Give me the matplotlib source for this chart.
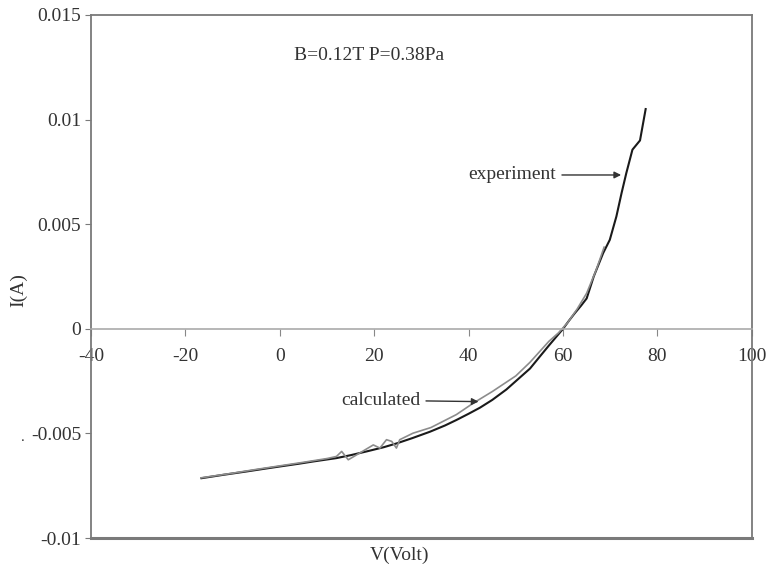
import matplotlib
matplotlib.use("Agg")
import matplotlib.pyplot as plt

plt.rcParams['font.family'] = ['Liberation Serif', 'DejaVu Serif']

# experiment (black curve)
v_exp = [-16.6, -12, -7.1, -3, 0, 4, 7.1, 12, 15, 18.4, 22, 24.7, 28, 31.8, 35,
         37.4, 40, 42.4, 45, 48, 51, 53, 55.1, 57, 58.5, 60, 61.3, 62.5, 63.8, 65,
         66.5, 68.5, 69.9, 71.3, 72.4, 73.4, 74.7, 76.3, 77.5]
i_exp = [-0.00714, -0.00698, -0.00682, -0.00668, -0.00658, -0.00645, -0.00634,
         -0.00618, -0.00604, -0.00586, -0.00566, -0.00548, -0.00523, -0.00492,
         -0.00462, -0.00436, -0.00406, -0.00377, -0.0034, -0.0029, -0.0023,
         -0.0019, -0.00132, -0.0008, -0.0004, 0.0, 0.0004, 0.00075, 0.0011,
         0.00145, 0.0025, 0.00362, 0.00425, 0.00537, 0.00649, 0.00744, 0.00856,
         0.0090, 0.0105]

# calculated (gray curve)
v_calc = [-16.6, -10, -5, 0, 5, 10, 12, 13.1, 14.5, 16.9, 19.8, 21.2, 22.6, 23.7,
          24.7, 25.4, 28.2, 32, 37.4, 41, 45, 50, 53, 55, 57, 59, 61, 63, 65, 67,
          68.7]
i_calc = [-0.00712, -0.0069, -0.00672, -0.00655, -0.00638, -0.0062, -0.0061,
          -0.00586, -0.00626, -0.00594, -0.00555, -0.0057, -0.0053, -0.00538,
          -0.0057, -0.0053, -0.00499, -0.00472, -0.0041, -0.00355, -0.0030,
          -0.00225, -0.0016, -0.0011, -0.0006, -0.0002, 0.0003, 0.00095, 0.0017,
          0.0028, 0.0039]

x_ticks = [-40, -20, 0, 20, 40, 60, 80, 100]
y_ticks = [-0.01, -0.005, 0, 0.005, 0.01, 0.015]
y_labels = ['-0.01', '-0.005', '0', '0.005', '0.01', '0.015']

txt = '#333333'
frame = '#7a7a7a'

fig = plt.figure(figsize=(7.68, 5.73), dpi=100)
ax = fig.add_axes([0.1185, 0.061, 0.8605, 0.913])

ax.plot(v_exp, i_exp, color='#1a1a1a', linewidth=1.5)
ax.plot(v_calc, i_calc, color='#8c8c8c', linewidth=1.2)

ax.set_xlim(-40, 100)
ax.set_ylim(-0.01, 0.015)

# x axis sits on I = 0
ax.spines['bottom'].set_position(('data', 0))
ax.spines['bottom'].set_color('#aaaaaa')
ax.spines['bottom'].set_linewidth(1.2)
for s in ['left', 'right', 'top']:
    ax.spines[s].set_color(frame)
    ax.spines[s].set_linewidth(1.3)
ax.axhline(-0.01, color=frame, linewidth=2.2, clip_on=False)

ax.set_xticks(x_ticks)
ax.set_xticklabels([str(t) for t in x_ticks])
ax.set_yticks(y_ticks)
ax.set_yticklabels(y_labels)
ax.tick_params(axis='x', direction='out', length=5, color='#888888', pad=9,
               labelsize=14, labelcolor=txt)
ax.tick_params(axis='y', direction='out', length=4, color=frame, pad=3,
               labelsize=14, labelcolor=txt)

ax.text(0.4215, 0.9225, 'B=0.12T P=0.38Pa', transform=ax.transAxes,
        ha='center', va='center', fontsize=14, color=txt)

ax.annotate('experiment', xy=(72.3, 0.00735), xytext=(40.0, 0.00735),
            ha='left', va='center', fontsize=14, color=txt,
            arrowprops=dict(arrowstyle='-|>', color='#333333', lw=1.0,
                            mutation_scale=10, shrinkA=2, shrinkB=0))
ax.annotate('calculated', xy=(42.1, -0.00348), xytext=(13.0, -0.00342),
            ha='left', va='center', fontsize=14, color=txt,
            arrowprops=dict(arrowstyle='-|>', color='#333333', lw=1.0,
                            mutation_scale=10, shrinkA=2, shrinkB=0))

fig.text(0.52, 0.03, 'V(Volt)', ha='center', va='center', fontsize=14, color=txt)
fig.text(0.024, 0.493, 'I(A)', ha='center', va='center', fontsize=14,
         color=txt, rotation=90)
fig.text(0.03, 0.237, '.', ha='center', va='center', fontsize=11, color=txt)

fig.savefig('out.png', dpi=100)
